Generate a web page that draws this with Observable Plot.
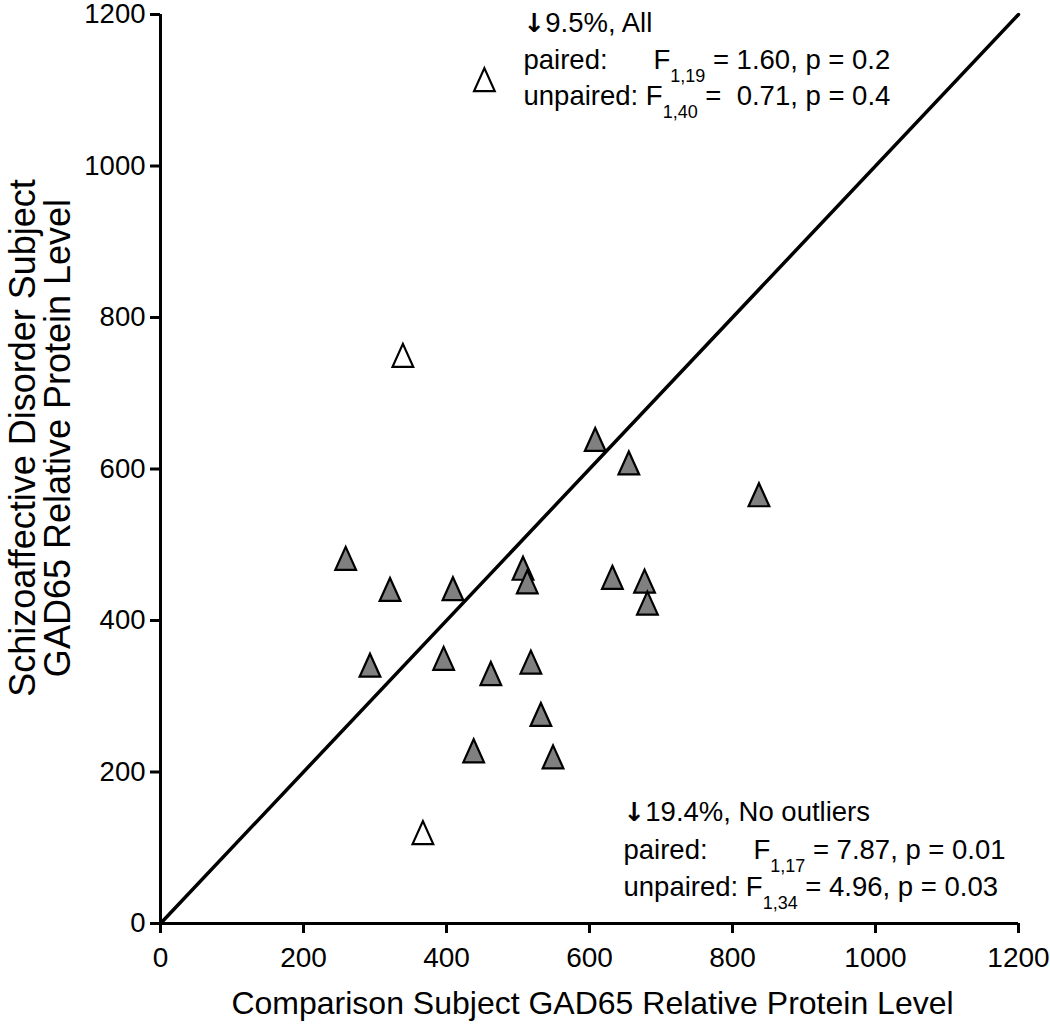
<!DOCTYPE html>
<html>
<head>
<meta charset="utf-8">
<script src="https://cdn.jsdelivr.net/npm/d3@7"></script>
<script src="https://cdn.jsdelivr.net/npm/@observablehq/plot@0.6"></script>
<style>
  body { margin: 0; background: #fff; }
  svg text { font-family: "Liberation Sans", Arial, sans-serif; }
</style>
</head>
<body>
<div id="chart"></div>
<script>
// ---- data ----
const filledX = [259, 321, 409, 507, 513, 293, 396, 462, 518, 532, 438, 549, 608, 655, 837, 632, 677, 681];
const filledY = [482, 441, 442, 469, 451, 341, 350, 330, 345, 276, 228, 220, 639, 608, 566, 457, 452, 423];
const hollowX = [453, 339, 367];
const hollowY = [1114, 750, 120];
const xTicks = [0, 200, 400, 600, 800, 1000, 1200];
const yTicks = [0, 200, 400, 600, 800, 1000, 1200];
const unityLine = [0, 1200];
const xTitle = "Comparison Subject GAD65 Relative Protein Level";
const yTitleLines = ["Schizoaffective Disorder Subject", "GAD65 Relative Protein Level"];
const NB = "\u00A0";
const statsAll = [
  "↓9.5%, All",
  "paired:" + NB.repeat(6) + "F{1,19} = 1.60, p = 0.2",
  "unpaired: F{1,40} =" + NB + NB + "0.71, p = 0.4"
];
const statsNoOutliers = [
  "↓19.4%, No outliers",
  "paired:" + NB.repeat(6) + "F{1,17} = 7.87, p = 0.01",
  "unpaired: F{1,34} = 4.96, p = 0.03"
];

// ---- build ----
const filled = filledX.map((x, i) => ({x, y: filledY[i]}));
const hollow = hollowX.map((x, i) => ({x, y: hollowY[i]}));

const triangle = {
  draw(context, size) {
    const r = Math.sqrt(size / Math.PI);
    context.moveTo(0, -r);
    context.lineTo(0.9 * r, r);
    context.lineTo(-0.9 * r, r);
    context.closePath();
  }
};

const fmt = d => `${d}`;
const FONT = '"Liberation Sans", Arial, sans-serif';

function statMarks(lines, anchor, dx, dys) {
  return lines.map((line, i) => Plot.text([line], {
    text: d => d,
    frameAnchor: anchor,
    dx,
    dy: dys[i],
    textAnchor: "start",
    lineAnchor: "bottom",
    fontSize: 27.5,
    fill: "#000"
  }));
}

const svg = Plot.plot({
  width: 1050,
  height: 1031,
  marginLeft: 160,
  marginRight: 32,
  marginTop: 14,
  marginBottom: 108,
  x: {domain: [0, 1200]},
  y: {domain: [0, 1200]},
  style: {fontFamily: FONT, fontSize: "27px", color: "#000", background: "#fff", overflow: "visible"},
  marks: [
    Plot.axisX(xTicks, {tickSize: 10, tickPadding: 14, strokeWidth: 3, fontSize: 28, tickFormat: fmt, label: null}),
    Plot.axisY(yTicks, {tickSize: 10, tickPadding: 5, strokeWidth: 3, fontSize: 27.5, tickFormat: fmt, label: null}),
    Plot.ruleX([0], {stroke: "#000", strokeWidth: 3}),
    Plot.ruleY([0], {stroke: "#000", strokeWidth: 3}),
    Plot.line(unityLine, {x: d => d, y: d => d, stroke: "#000", strokeWidth: 3.5}),
    Plot.dot(hollow, {x: "x", y: "y", symbol: triangle, r: 11.5, fill: "#fff", stroke: "#000", strokeWidth: 2.2}),
    Plot.dot(filled, {x: "x", y: "y", symbol: triangle, r: 11.5, fill: "#808080", stroke: "#000", strokeWidth: 2.2}),
    Plot.text([xTitle], {text: d => d, frameAnchor: "bottom", dx: 3, dy: 90, lineAnchor: "bottom", textAnchor: "middle", fontSize: 32, fill: "#000"}),
    Plot.text([yTitleLines.join("\n")], {text: d => d, frameAnchor: "left", rotate: -90, dx: -119, dy: -31, lineAnchor: "middle", textAnchor: "middle", fontSize: 36, lineHeight: 0.97, fill: "#000"}),
    ...statMarks(statsAll, "top-left", 363, [17, 54, 90]),
    ...statMarks(statsNoOutliers, "bottom-left", 463, [-103, -65, -28])
  ]
});

// rich text: subscripts "F{1,19}" and a bold down arrow
d3.select(svg).selectAll("text").each(function () {
  if (this.querySelector("tspan")) return;
  const t = this.textContent;
  const sel = d3.select(this);
  const m = /^(.*)\{(.+?)\}(.*)$/.exec(t);
  if (m) {
    sel.text(null);
    sel.append("tspan").text(m[1]);
    sel.append("tspan").attr("font-size", 18).attr("dy", 13).text(m[2]);
    sel.append("tspan").attr("dy", -13).text(m[3]);
  } else if (t.startsWith("↓")) {
    sel.text(null);
    sel.append("tspan").attr("font-family", '"DejaVu Sans", sans-serif').attr("font-weight", "bold").attr("font-size", 26).text("↓");
    sel.append("tspan").text(t.slice(1));
  }
});

document.getElementById("chart").appendChild(svg);
</script>
</body>
</html>
